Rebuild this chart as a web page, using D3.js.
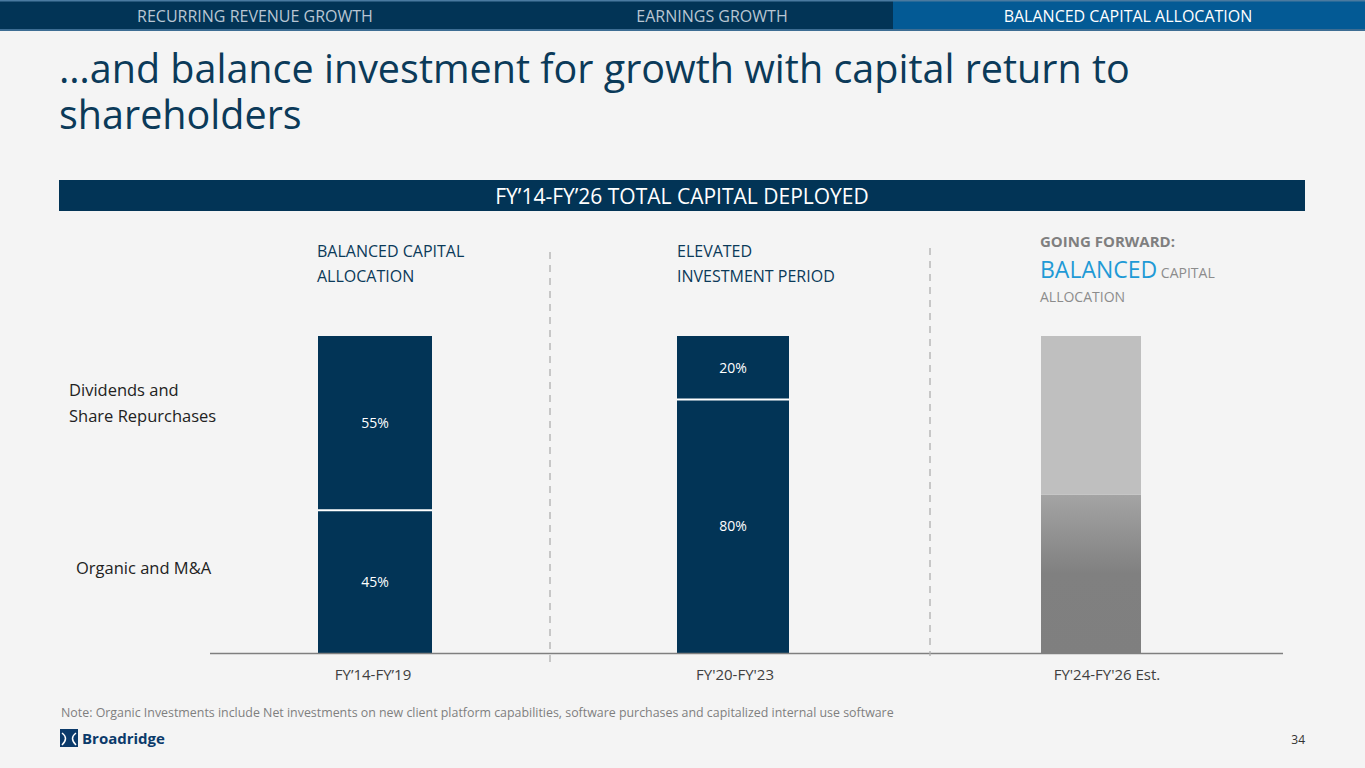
<!DOCTYPE html>
<html><head><meta charset="utf-8">
<script src="https://cdn.jsdelivr.net/npm/d3@7"></script>
<style>
body{margin:0;background:#f4f4f4;font-family:"Open Sans",sans-serif;}
svg{display:block}
</style></head>
<body><div id="chart"></div>
<script>
const periods = ["FY’14-FY’19", "FY'20-FY'23", "FY'24-FY'26"];
const organicMA = [45, 80, 50];
const dividendsRepurchases = [55, 20, 50];
const showLabels = [true, true, false];
const tabs = ["RECURRING REVENUE GROWTH", "EARNINGS GROWTH", "BALANCED CAPITAL ALLOCATION"];

const W = 1365, H = 768;
const svg = d3.select("#chart").append("svg").attr("width", W).attr("height", H);
const navy = "#023456";

// top tabs
svg.append("rect").attr("width", W).attr("height", 31).attr("fill", navy);
svg.append("rect").attr("x", 893).attr("width", W - 893).attr("height", 31).attr("fill", "#035a95");
svg.append("rect").attr("y", 0).attr("width", W).attr("height", 1.5).attr("fill", "#4a7aa0");
svg.append("rect").attr("y", 29).attr("width", W).attr("height", 2).attr("fill", "#3d6d93");
[[255, "#b9c6d3"], [712, "#b9c6d3"], [1128, "#ffffff"]].forEach(([x, c], i) =>
  svg.append("text").attr("x", x).attr("y", 22).attr("text-anchor", "middle")
    .style("font-size", "16px").style("fill", c).text(tabs[i]));

// title
svg.append("text").attr("x", 59).attr("y", 83).style("font-size", "39.5px").style("fill", "#0b3a59")
  .text("…and balance investment for growth with capital return to");
svg.append("text").attr("x", 59).attr("y", 129).style("font-size", "39.5px").style("fill", "#0b3a59")
  .text("shareholders");

svg.append("rect").attr("x", 59).attr("y", 180).attr("width", 1246).attr("height", 31).attr("fill", navy);
svg.append("text").attr("x", 682).attr("y", 204).attr("text-anchor", "middle")
  .style("font-size", "21px").style("fill", "#fff").text("FY’14-FY’26 TOTAL CAPITAL DEPLOYED");

// scales
const x = d3.scalePoint().domain(periods).range([375, 1091]);
const y = d3.scaleLinear().domain([0, 100]).range([653, 336]);
const bw = [114, 112, 100];

// gradient for forecast bar
const defs = svg.append("defs");
const g1 = defs.append("linearGradient").attr("id", "gr").attr("x1", 0).attr("x2", 0).attr("y1", 0).attr("y2", 1);
g1.append("stop").attr("offset", "0%").attr("stop-color", "#a4a4a4");
g1.append("stop").attr("offset", "50%").attr("stop-color", "#808080");
g1.append("stop").attr("offset", "100%").attr("stop-color", "#7f7f7f");

periods.forEach((p, i) => {
  const cx = x(p), w = bw[i];
  const est = !showLabels[i];
  const yMid = y(organicMA[i]);
  svg.append("rect").attr("x", cx - w / 2).attr("y", yMid).attr("width", w)
    .attr("height", y(0) - yMid).attr("fill", est ? "url(#gr)" : navy);
  svg.append("rect").attr("x", cx - w / 2).attr("y", y(100)).attr("width", w)
    .attr("height", yMid - y(100)).attr("fill", est ? "#bfbfbf" : navy);
  if (!est) {
    svg.append("line").attr("x1", cx - w / 2).attr("x2", cx + w / 2).attr("y1", yMid).attr("y2", yMid)
      .attr("stroke", "#fff").attr("stroke-width", 2);
    svg.append("text").attr("x", cx).attr("y", (yMid + y(0)) / 2 + 5).attr("text-anchor", "middle")
      .style("font-size", "14px").style("fill", "#fff").text(organicMA[i] + "%");
    svg.append("text").attr("x", cx).attr("y", (yMid + y(100)) / 2 + 5).attr("text-anchor", "middle")
      .style("font-size", "14px").style("fill", "#fff").text(dividendsRepurchases[i] + "%");
  }
});

// baseline + separators
svg.append("line").attr("x1", 210).attr("x2", 1283).attr("y1", 653.5).attr("y2", 653.5)
  .attr("stroke", "#7f7f7f").attr("stroke-width", 1.5);
[[550, 252, 662], [930, 248, 656]].forEach(([sx, a, b]) =>
  svg.append("line").attr("x1", sx).attr("x2", sx).attr("y1", a).attr("y2", b)
    .attr("stroke", "#b0b0b0").attr("stroke-width", 1.3).attr("stroke-dasharray", "7,6"));

// category labels
const catLbl = ["FY’14-FY’19", "FY'20-FY'23", "FY'24-FY'26 Est."];
[373, 735, 1107].forEach((cx, i) =>
  svg.append("text").attr("x", cx).attr("y", 680).attr("text-anchor", "middle")
    .style("font-size", "15px").style("fill", "#404040").text(catLbl[i]));

// section headers
function lines(xp, y0, arr, size, col, lh) {
  arr.forEach((t, i) => svg.append("text").attr("x", xp).attr("y", y0 + i * lh)
    .style("font-size", size).style("fill", col).text(t));
}
lines(317, 257, ["BALANCED CAPITAL", "ALLOCATION"], "16px", "#0b3a59", 25);
lines(677, 257, ["ELEVATED", "INVESTMENT PERIOD"], "16px", "#0b3a59", 25);
svg.append("text").attr("x", 1040).attr("y", 247).style("font-size", "15px").style("font-weight", "bold")
  .style("fill", "#7f7f7f").text("GOING FORWARD:");
const t3 = svg.append("text").attr("x", 1040).attr("y", 278);
t3.append("tspan").style("font-size", "23px").style("fill", "#1f9ad6").text("BALANCED");
t3.append("tspan").style("font-size", "14px").style("fill", "#8c8c8c").text(" CAPITAL");
svg.append("text").attr("x", 1040).attr("y", 302).style("font-size", "14px").style("fill", "#8c8c8c").text("ALLOCATION");

// side legend
lines(69, 396, ["Dividends and", "Share Repurchases"], "16.5px", "#222", 26);
lines(76, 574, ["Organic and M&A"], "16.5px", "#222", 26);

// footer
svg.append("text").attr("x", 61).attr("y", 717).style("font-size", "12.4px").style("fill", "#7f7f7f")
  .text("Note: Organic Investments include Net investments on new client platform capabilities, software purchases and capitalized internal use software");
svg.append("rect").attr("x", 60).attr("y", 729).attr("width", 18).attr("height", 18).attr("fill", "#0b3a6a");
svg.append("path").attr("d", "M62,733 Q69,738 62,745 M76,733 Q69,738 76,745").attr("stroke", "#fff").attr("fill", "none").attr("stroke-width", 1.5);
svg.append("text").attr("x", 82).attr("y", 744).style("font-size", "15px").style("font-weight", "bold")
  .style("fill", "#0b3a6a").text("Broadridge");
svg.append("text").attr("x", 1305).attr("y", 744).attr("text-anchor", "end").style("font-size", "12px")
  .style("fill", "#333").text("34");
</script></body></html>
